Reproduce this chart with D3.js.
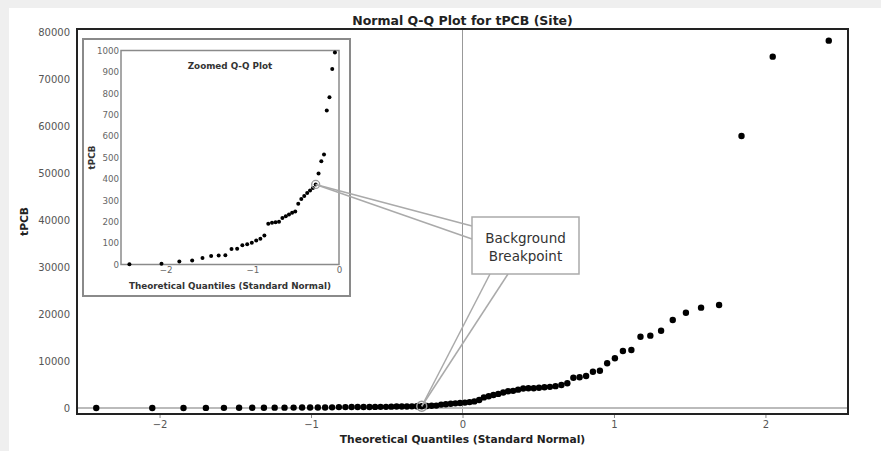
<!DOCTYPE html>
<html>
<head>
<meta charset="utf-8">
<script src="https://cdn.jsdelivr.net/npm/d3@7"></script>
<style>
  html, body { margin: 0; padding: 0; background: #fff; }
  svg { display: block; font-family: "DejaVu Sans", Verdana, sans-serif; }
</style>
</head>
<body>
<div id="container"></div>
<script>
/* DATA */
// theoretical quantiles, one per sample, in order
const quantiles = [
  -2.418, -2.048, -1.842, -1.694, -1.575, -1.475, -1.388, -1.311, -1.240, -1.175,
  -1.115, -1.059, -1.006, -0.955, -0.907, -0.861, -0.816, -0.773, -0.732, -0.692,
  -0.653, -0.614, -0.577, -0.541, -0.505, -0.470, -0.435, -0.401, -0.367, -0.334,
  -0.301, -0.269, -0.236, -0.204, -0.173, -0.141, -0.110, -0.078, -0.047, -0.016,
  0.016, 0.047, 0.078, 0.110, 0.141, 0.173, 0.204, 0.236, 0.269, 0.301,
  0.334, 0.367, 0.401, 0.435, 0.470, 0.505, 0.541, 0.577, 0.614, 0.653,
  0.692, 0.732, 0.773, 0.816, 0.861, 0.907, 0.955, 1.006, 1.059, 1.115,
  1.175, 1.240, 1.311, 1.388, 1.475, 1.575, 1.694, 1.842, 2.048, 2.418
];
// sorted tPCB sample values
const tpcb = [
  1, 3, 14, 19, 30, 40, 42, 43, 73, 74,
  90, 95, 102, 112, 120, 136, 191, 195, 197, 200,
  217, 225, 234, 242, 248, 284, 306, 320, 334, 346,
  358, 374, 425, 483, 514, 720, 782, 913, 991, 1050,
  1150, 1250, 1400, 1700, 2250, 2500, 2750, 3000, 3300, 3550,
  3650, 3900, 4150, 4200, 4200, 4300, 4400, 4500, 4650, 4900,
  5250, 6450, 6530, 6810, 7720, 7940, 9510, 10570, 12130, 12340,
  15170, 15390, 16450, 18730, 20280, 21350, 21900, 57880, 74760, 78160
];
const breakIndex = 31; // the "background breakpoint" sample

const xTicks = [-2, -1, 0, 1, 2];
const yTicks = [0, 10000, 20000, 30000, 40000, 50000, 60000, 70000, 80000];
const insetXTicks = [-2, -1, 0];
const insetYTicks = [0, 100, 200, 300, 400, 500, 600, 700, 800, 900, 1000];

const title = "Normal Q-Q Plot for tPCB (Site)";
const xLabel = "Theoretical Quantiles (Standard Normal)";
const yLabel = "tPCB";
const insetTitle = "Zoomed Q-Q Plot";
const calloutLines = ["Background", "Breakpoint"];

/* LAYOUT */
const width = 881, height = 451;
const frame = { left: 77, right: 848, top: 29, bottom: 414 };
const inner = { left: 121, right: 339, top: 50.5, bottom: 264.5 };
const insetBox = { left: 83, right: 350, top: 39, bottom: 296 };
const box = { left: 472, right: 579, top: 217, bottom: 274 };

const points = quantiles.map((q, i) => ({ q, v: tpcb[i] }));
const intFmt = d3.format("d");

const svg = d3.select("#container").append("svg")
  .attr("width", width)
  .attr("height", height);

// screenshot-like grey edges
svg.append("rect").attr("width", width).attr("height", height).attr("fill", "#efefef");
svg.append("rect").attr("x", 9).attr("y", 8).attr("width", width - 9).attr("height", height - 8).attr("fill", "#fff");

/* MAIN PLOT */
const x = d3.scaleLinear().domain([-2.545, 2.545]).range([frame.left, frame.right]);
const y = d3.scaleLinear().domain([-1277, 80638]).range([frame.bottom, frame.top]);

svg.append("rect")
  .attr("x", frame.left).attr("y", frame.top)
  .attr("width", frame.right - frame.left).attr("height", frame.bottom - frame.top)
  .attr("fill", "#fff");

// reference lines at 0
svg.append("line")
  .attr("x1", x(0)).attr("x2", x(0))
  .attr("y1", frame.top).attr("y2", frame.bottom)
  .attr("stroke", "#999").attr("stroke-width", 1);
svg.append("line")
  .attr("x1", frame.left).attr("x2", frame.right)
  .attr("y1", y(0)).attr("y2", y(0))
  .attr("stroke", "#bbb").attr("stroke-width", 2);

const xAxis = svg.append("g")
  .attr("transform", `translate(0,${frame.bottom})`)
  .call(d3.axisBottom(x).tickValues(xTicks).tickFormat(intFmt).tickSize(4).tickSizeOuter(0).tickPadding(3));
xAxis.select(".domain").remove();
xAxis.selectAll(".tick line").attr("stroke", "#888");
xAxis.selectAll("text").attr("font-size", 10).attr("fill", "#555").attr("font-family", "DejaVu Sans");

const yAxis = svg.append("g")
  .attr("transform", `translate(${frame.left},0)`)
  .call(d3.axisLeft(y).tickValues(yTicks).tickSize(0).tickPadding(7).tickFormat(intFmt));
yAxis.select(".domain").remove();
yAxis.selectAll("text").attr("font-size", 10).attr("fill", "#555").attr("font-family", "DejaVu Sans");

svg.selectAll("circle.pt")
  .data(points)
  .join("circle")
  .attr("class", "pt")
  .attr("cx", d => x(d.q))
  .attr("cy", d => y(d.v))
  .attr("r", 3.2)
  .attr("fill", "#000");

svg.append("circle")
  .attr("cx", x(points[breakIndex].q)).attr("cy", y(points[breakIndex].v))
  .attr("r", 5).attr("fill", "none").attr("stroke", "#999").attr("stroke-width", 1.5);

// frame border
svg.append("rect")
  .attr("x", frame.left).attr("y", frame.top)
  .attr("width", frame.right - frame.left).attr("height", frame.bottom - frame.top)
  .attr("fill", "none").attr("stroke", "#222").attr("stroke-width", 2);

svg.append("text")
  .attr("x", x(0)).attr("y", 24.5)
  .attr("text-anchor", "middle")
  .attr("font-weight", "bold").attr("font-size", 12.5).attr("fill", "#222")
  .text(title);

svg.append("text")
  .attr("x", x(0)).attr("y", 443)
  .attr("text-anchor", "middle")
  .attr("font-weight", "bold").attr("font-size", 10.7).attr("fill", "#222")
  .text(xLabel);

svg.append("text")
  .attr("transform", `translate(28,${(frame.top + frame.bottom) / 2}) rotate(-90)`)
  .attr("text-anchor", "middle")
  .attr("font-weight", "bold").attr("font-size", 10.7).attr("fill", "#222")
  .text(yLabel);

/* INSET */
const xi = d3.scaleLinear().domain([-2.515, 0]).range([inner.left, inner.right]);
const yi = d3.scaleLinear().domain([0, 1000]).range([inner.bottom, inner.top]);

svg.append("rect")
  .attr("x", insetBox.left).attr("y", insetBox.top)
  .attr("width", insetBox.right - insetBox.left).attr("height", insetBox.bottom - insetBox.top)
  .attr("fill", "#fff").attr("stroke", "#8a8a8a").attr("stroke-width", 2);

svg.append("rect")
  .attr("x", inner.left).attr("y", inner.top)
  .attr("width", inner.right - inner.left).attr("height", inner.bottom - inner.top)
  .attr("fill", "#fff").attr("stroke", "#8a8a8a").attr("stroke-width", 1.5);

const ixAxis = svg.append("g")
  .attr("transform", `translate(0,${inner.bottom})`)
  .call(d3.axisBottom(xi).tickValues(insetXTicks).tickFormat(intFmt).tickSize(0).tickPadding(2));
ixAxis.select(".domain").remove();
ixAxis.selectAll("text").attr("font-size", 8.7).attr("fill", "#666").attr("font-family", "DejaVu Sans");

const iyAxis = svg.append("g")
  .attr("transform", `translate(${inner.left},0)`)
  .call(d3.axisLeft(yi).tickValues(insetYTicks).tickSize(0).tickPadding(2).tickFormat(intFmt));
iyAxis.select(".domain").remove();
iyAxis.selectAll("text").attr("font-size", 8.7).attr("fill", "#666").attr("font-family", "DejaVu Sans");

svg.append("clipPath").attr("id", "inset-clip")
  .append("rect")
  .attr("x", inner.left - 3).attr("y", inner.top - 3)
  .attr("width", inner.right - inner.left + 6).attr("height", inner.bottom - inner.top + 6);

const insetPts = points.filter(d => d.q <= 0 && d.v <= 1000);
svg.append("g").attr("clip-path", "url(#inset-clip)")
  .selectAll("circle")
  .data(insetPts)
  .join("circle")
  .attr("cx", d => xi(d.q))
  .attr("cy", d => yi(d.v))
  .attr("r", 2)
  .attr("fill", "#000");

svg.append("circle")
  .attr("cx", xi(points[breakIndex].q)).attr("cy", yi(points[breakIndex].v))
  .attr("r", 4).attr("fill", "none").attr("stroke", "#999").attr("stroke-width", 1.3);

svg.append("text")
  .attr("x", (inner.left + inner.right) / 2).attr("y", 69)
  .attr("text-anchor", "middle")
  .attr("font-weight", "bold").attr("font-size", 8.8).attr("fill", "#333")
  .text(insetTitle);

svg.append("text")
  .attr("x", (inner.left + inner.right) / 2).attr("y", 288.5)
  .attr("text-anchor", "middle")
  .attr("font-weight", "bold").attr("font-size", 8.8).attr("fill", "#333")
  .text(xLabel);

svg.append("text")
  .attr("transform", `translate(95,${(inner.top + inner.bottom) / 2}) rotate(-90)`)
  .attr("text-anchor", "middle")
  .attr("font-weight", "bold").attr("font-size", 8.8).attr("fill", "#333")
  .text(yLabel);

/* CALLOUT */
const pInset = [xi(points[breakIndex].q), yi(points[breakIndex].v)];
const pMain = [x(points[breakIndex].q), y(points[breakIndex].v)];
const wedges = [
  [pInset, [box.left, 226], [box.left, 239]],
  [pMain, [490, box.bottom], [508, box.bottom]]
];
wedges.forEach(([tip, a, b]) => {
  [a, b].forEach(end => {
    svg.append("line")
      .attr("x1", tip[0]).attr("y1", tip[1])
      .attr("x2", end[0]).attr("y2", end[1])
      .attr("stroke", "#aaa").attr("stroke-width", 1.5);
  });
});

svg.append("rect")
  .attr("x", box.left).attr("y", box.top)
  .attr("width", box.right - box.left).attr("height", box.bottom - box.top)
  .attr("fill", "#fff").attr("stroke", "#aaa").attr("stroke-width", 1.5);

svg.append("text")
  .attr("x", (box.left + box.right) / 2).attr("y", 243)
  .attr("text-anchor", "middle")
  .attr("font-size", 13.5).attr("fill", "#333")
  .selectAll("tspan")
  .data(calloutLines)
  .join("tspan")
  .attr("x", (box.left + box.right) / 2)
  .attr("dy", (d, i) => i === 0 ? 0 : 18)
  .text(d => d);
</script>
</body>
</html>
